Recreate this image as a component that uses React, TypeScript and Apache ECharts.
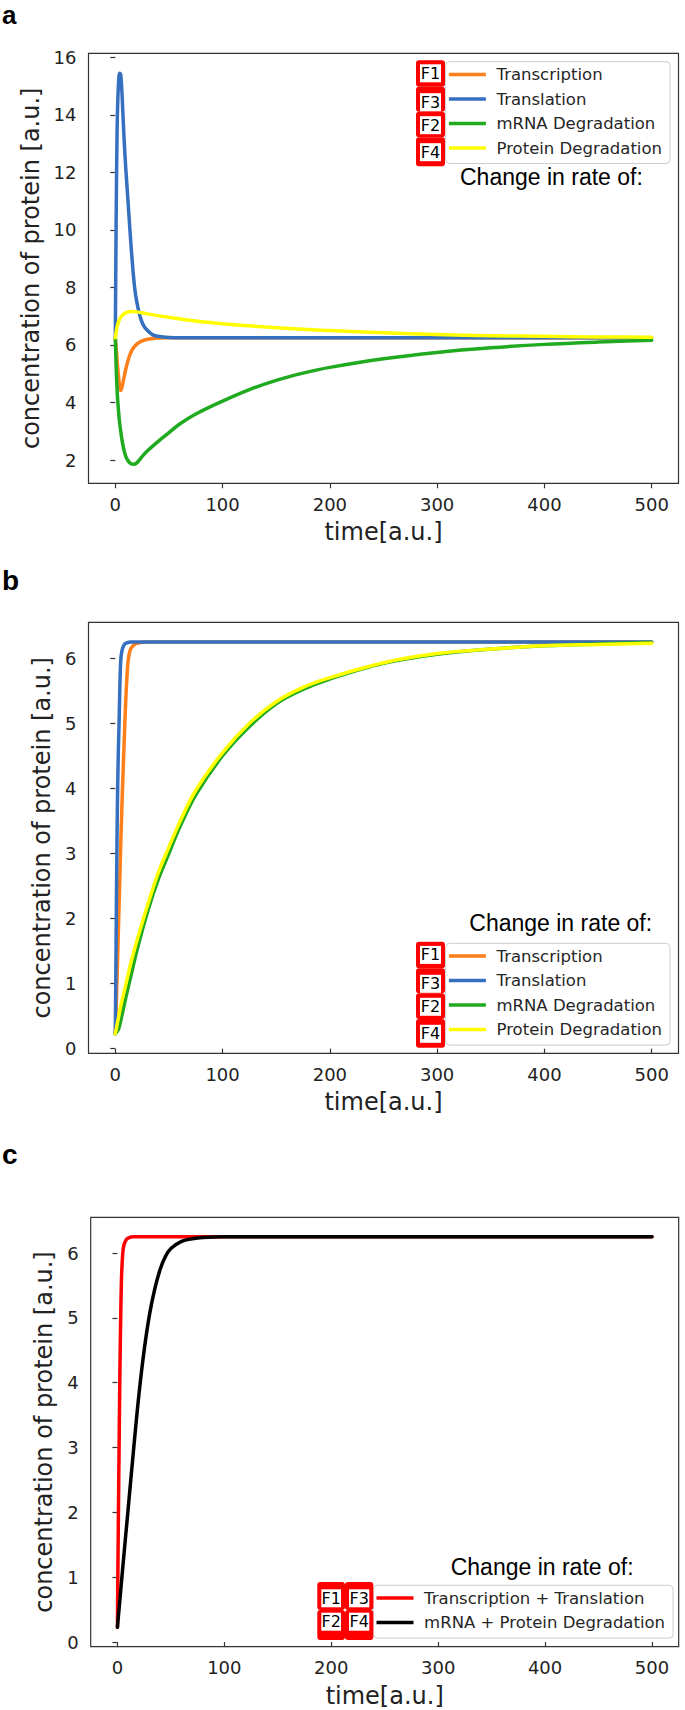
import React, { useEffect, useRef } from "react";
import * as echarts from "echarts";

// ---------- tick values ----------
const X_TICKS = [0, 100, 200, 300, 400, 500];
const Y_TICKS_A = [2, 4, 6, 8, 10, 12, 14, 16];
const Y_TICKS_BC = [0, 1, 2, 3, 4, 5, 6];

// ---------- legend names ----------
const NAMES_AB = ["Transcription", "Translation", "mRNA Degradation", "Protein Degradation"];
const F_LABELS_AB = ["F1", "F3", "F2", "F4"];
const NAMES_C = ["Transcription + Translation", "mRNA + Protein Degradation"];
const F_LABELS_C = [["F1", "F3"], ["F2", "F4"]];
const LEGEND_TITLE = "Change in rate of:";
const PANEL_LETTERS = ["a", "b", "c"];
const X_TITLE = "time[a.u.]";
const Y_TITLE = "concentration of protein [a.u.]";

// ---------- panel a : [time, concentration] ----------
const A_TRANSCRIPTION = [[0, 6.25], [1, 5.8], [2, 5.3], [3, 4.9], [4, 4.55], [5, 4.42], [6, 4.5], [8, 4.85], [10, 5.2], [13, 5.6], [16, 5.85], [20, 6.03], [25, 6.14], [30, 6.2], [40, 6.24], [50, 6.25], [500, 6.25]];
const A_TRANSLATION = [[0, 6.25], [0.5, 9.0], [1, 11.3], [1.5, 13.0], [2, 14.1], [3, 15.1], [4, 15.45], [5, 15.4], [6, 14.9], [7, 14.1], [8, 13.3], [9, 12.6], [10, 12.0], [12, 10.9], [14, 9.8], [16, 8.8], [18, 8.0], [20, 7.5], [23, 7.0], [26, 6.7], [30, 6.5], [35, 6.35], [40, 6.3], [50, 6.26], [60, 6.25], [500, 6.25]];
const A_MRNA_DEG = [[0, 6.25], [1, 5.0], [2, 4.2], [3, 3.7], [4, 3.3], [6, 2.75], [8, 2.35], [10, 2.1], [12, 1.97], [14, 1.89], [17, 1.85], [20, 1.9], [25, 2.12], [30, 2.32], [40, 2.65], [50, 2.95], [60, 3.25], [75, 3.6], [100, 4.05], [125, 4.45], [150, 4.77], [175, 5.02], [200, 5.22], [250, 5.52], [300, 5.74], [350, 5.9], [400, 6.02], [450, 6.1], [500, 6.16]];
const A_PROTEIN_DEG = [[0, 6.25], [1, 6.5], [2, 6.68], [4, 6.9], [7, 7.05], [10, 7.12], [15, 7.16], [20, 7.15], [30, 7.08], [50, 6.96], [75, 6.83], [100, 6.74], [150, 6.6], [200, 6.5], [250, 6.42], [300, 6.36], [350, 6.32], [400, 6.3], [450, 6.28], [500, 6.27]];

// ---------- panel b ----------
const B_TRANSCRIPTION = [[0, 0.23], [1, 0.75], [2, 1.3], [3, 1.9], [4, 2.5], [5, 3.1], [6, 3.65], [7, 4.15], [8, 4.6], [9, 5.05], [10, 5.45], [11, 5.75], [12, 5.97], [14, 6.13], [17, 6.2], [20, 6.23], [30, 6.25], [500, 6.25]];
const B_TRANSLATION = [[0, 0.23], [0.5, 1.2], [1, 2.2], [1.5, 3.1], [2, 3.8], [2.5, 4.3], [3, 4.7], [3.5, 5.0], [4, 5.4], [5, 5.95], [6, 6.1], [8, 6.2], [10, 6.23], [15, 6.25], [500, 6.25]];
const B_MRNA_DEG = [[0, 0.23], [3, 0.3], [6, 0.5], [10, 0.8], [15, 1.15], [20, 1.5], [30, 2.1], [40, 2.6], [50, 3.0], [60, 3.4], [75, 3.9], [100, 4.5], [125, 4.95], [150, 5.3], [175, 5.52], [200, 5.68], [250, 5.92], [300, 6.06], [350, 6.14], [400, 6.19], [450, 6.22], [500, 6.24]];
const B_PROTEIN_DEG = [[0, 0.23], [2, 0.4], [5, 0.65], [10, 1.0], [15, 1.35], [20, 1.65], [30, 2.2], [40, 2.7], [50, 3.1], [60, 3.48], [75, 3.97], [100, 4.55], [125, 5.0], [150, 5.33], [175, 5.55], [200, 5.7], [250, 5.93], [300, 6.07], [350, 6.14], [400, 6.19], [450, 6.21], [500, 6.23]];

// ---------- panel c ----------
const C_TRANSCRIPTION_TRANSLATION = [[0, 0.23], [0.5, 1.2], [1, 2.1], [1.5, 2.9], [2, 3.7], [2.5, 4.4], [3, 4.95], [3.5, 5.4], [4, 5.7], [5, 6.0], [6, 6.12], [8, 6.2], [10, 6.23], [15, 6.25], [500, 6.25]];
const C_DEGRADATION = [[0, 0.23], [5, 1.15], [10, 2.05], [15, 2.95], [20, 3.8], [25, 4.5], [30, 5.05], [35, 5.45], [40, 5.75], [45, 5.95], [50, 6.07], [60, 6.18], [70, 6.22], [80, 6.24], [100, 6.25], [500, 6.25]];

const COLORS = {
  orange: "#ff7f1a",
  blue: "#3570c0",
  green: "#20aa20",
  yellow: "#ffff00",
  red: "#ff0000",
  black: "#000000",
};

const FONT = "DejaVu Sans";
const TXT = "#222222";

function makeAxes(i: number, ymin: number, ymax: number, yticks: number[], yNameGap: number) {
  const x = {
    type: "value",
    gridIndex: i,
    min: -25,
    max: 525,
    name: X_TITLE,
    nameLocation: "middle",
    nameGap: 37,
    nameTextStyle: { fontFamily: FONT, fontSize: 24, color: TXT },
    axisLine: { show: false },
    axisTick: { show: true, length: 5, customValues: X_TICKS, lineStyle: { color: "#333", width: 1.2 } },
    axisLabel: { customValues: X_TICKS, margin: 12, fontFamily: FONT, fontSize: 18, color: TXT },
    splitLine: { show: false },
  };
  const y = {
    type: "value",
    gridIndex: i,
    min: ymin,
    max: ymax,
    name: Y_TITLE,
    nameLocation: "middle",
    nameGap: yNameGap,
    nameTextStyle: { fontFamily: FONT, fontSize: 24, color: TXT },
    axisLine: { show: false },
    axisTick: { show: true, length: 5, customValues: yticks, lineStyle: { color: "#333", width: 1.2 } },
    axisLabel: { customValues: yticks, margin: 12, fontFamily: FONT, fontSize: 18, color: TXT },
    splitLine: { show: false },
  };
  return { x, y };
}

function line(name: string, data: number[][], color: string, idx: number, z: number) {
  return {
    type: "line",
    name,
    data,
    xAxisIndex: idx,
    yAxisIndex: idx,
    showSymbol: false,
    symbol: "none",
    smooth: 0.35,
    lineStyle: { width: 3.5, color, join: "round", cap: "round" },
    itemStyle: { color },
    z,
    silent: true,
  };
}

function fbox(x0: number, x1: number, y0: number, y1: number, label: string, ty: number) {
  return [
    { type: "rect", z: 100, shape: { x: x0, y: y0, width: x1 - x0, height: y1 - y0, r: 3 }, style: { fill: "#ff0000" } },
    { type: "rect", z: 101, shape: { x: x0 + 4, y: ty - 9, width: x1 - x0 - 8, height: 18 }, style: { fill: "#ffffff" } },
    {
      type: "text", z: 102, x: (x0 + x1) / 2, y: ty,
      style: { text: label, font: `16px '${FONT}'`, fill: "#000", align: "center", verticalAlign: "middle", textAlign: "center", textVerticalAlign: "middle" },
    },
  ];
}

function fColumnAB(L: number) {
  const bounds = [L - 1.5, L + 25, L + 50, L + 75.6, L + 104.5];
  const centers = [L + 11.6, L + 40.5, L + 63.5, L + 90.5];
  const out: any[] = [];
  F_LABELS_AB.forEach((lab, k) => {
    out.push(...fbox(416, 445, bounds[k], bounds[k + 1], lab, centers[k]));
  });
  return out;
}

function fGridC() {
  const cols = [[317.3, 345], [345, 373.3]];
  const rows = [[1582, 1610], [1610, 1640]];
  const centers = [1598.3, 1621.7];
  const out: any[] = [];
  F_LABELS_C.forEach((row, r) => {
    row.forEach((lab, c) => {
      out.push(...fbox(cols[c][0], cols[c][1], rows[r][0], rows[r][1], lab, centers[r]));
    });
  });
  return out;
}

function plainText(text: string, x: number, y: number, font: string, lineHeight: number) {
  return {
    type: "text", z: 110, x, y,
    style: { text, font, lineHeight, fill: "#000", align: "left", verticalAlign: "middle", textAlign: "left", textVerticalAlign: "middle" },
  };
}

export default function App() {
  const ref = useRef<HTMLDivElement>(null);
  useEffect(() => {
    if (!ref.current) return;
    const chart = echarts.init(ref.current, null, { renderer: "svg", width: 685, height: 1710 });
    const a = makeAxes(0, 1.19, 16.14, Y_TICKS_A, 43.5);
    const b = makeAxes(1, -0.071, 6.551, Y_TICKS_BC, 32.5);
    const c = makeAxes(2, -0.071, 6.551, Y_TICKS_BC, 32);

    const legendBase = {
      orient: "vertical",
      icon: "rect",
      itemWidth: 37,
      itemHeight: 3.5,
      itemGap: 5.5,
      padding: [3.3, 8, 6, 3.2],
      backgroundColor: "rgba(255,255,255,0.8)",
      borderColor: "#cccccc",
      borderWidth: 1,
      borderRadius: 4,
      selectedMode: false,
      textStyle: { fontFamily: FONT, fontSize: 16.5, color: "#262626", lineHeight: 19, padding: [0, 0, 0, 5.6] },
    };

    const graphic: any[] = [
      plainText(PANEL_LETTERS[0], 2, 15, "bold 26px 'Liberation Sans'", 28),
      plainText(PANEL_LETTERS[1], 2, 580.5, "bold 28px 'Liberation Sans'", 28),
      plainText(PANEL_LETTERS[2], 2, 1154, "bold 28px 'Liberation Sans'", 28),
      plainText(LEGEND_TITLE, 460, 176.7, "23px 'Liberation Sans'", 24),
      plainText(LEGEND_TITLE, 469.3, 922.7, "23px 'Liberation Sans'", 24),
      plainText(LEGEND_TITLE, 450.7, 1567.3, "23px 'Liberation Sans'", 24),
      ...fColumnAB(61.7),
      ...fColumnAB(943.3),
      ...fGridC(),
    ];

    const option: any = {
      animation: false,
      backgroundColor: "#ffffff",
      grid: [
        { left: 88.5, top: 53.3, width: 590, height: 430, show: true, borderColor: "#333", borderWidth: 1.2, backgroundColor: "transparent" },
        { left: 88.5, top: 622.3, width: 590, height: 431, show: true, borderColor: "#333", borderWidth: 1.2, backgroundColor: "transparent" },
        { left: 90.7, top: 1217.3, width: 588, height: 429.4, show: true, borderColor: "#333", borderWidth: 1.2, backgroundColor: "transparent" },
      ],
      xAxis: [a.x, b.x, c.x],
      yAxis: [a.y, b.y, c.y],
      legend: [
        { ...legendBase, left: 445.7, top: 61.7, data: NAMES_AB },
        { ...legendBase, left: 445.7, top: 943.3, data: NAMES_AB },
        { ...legendBase, left: 373.3, top: 1585.3, data: NAMES_C },
      ],
      series: [
        line(NAMES_AB[0], A_TRANSCRIPTION, COLORS.orange, 0, 2),
        line(NAMES_AB[1], A_TRANSLATION, COLORS.blue, 0, 3),
        line(NAMES_AB[2], A_MRNA_DEG, COLORS.green, 0, 4),
        line(NAMES_AB[3], A_PROTEIN_DEG, COLORS.yellow, 0, 5),
        line(NAMES_AB[0], B_TRANSCRIPTION, COLORS.orange, 1, 2),
        line(NAMES_AB[1], B_TRANSLATION, COLORS.blue, 1, 3),
        line(NAMES_AB[2], B_MRNA_DEG, COLORS.green, 1, 4),
        line(NAMES_AB[3], B_PROTEIN_DEG, COLORS.yellow, 1, 5),
        line(NAMES_C[0], C_TRANSCRIPTION_TRANSLATION, COLORS.red, 2, 2),
        line(NAMES_C[1], C_DEGRADATION, COLORS.black, 2, 3),
      ],
      graphic,
    };
    chart.setOption(option);
    return () => chart.dispose();
  }, []);
  return <div ref={ref} style={{ position: "absolute", left: 0, top: 0, width: 685, height: 1710 }} />;
}
